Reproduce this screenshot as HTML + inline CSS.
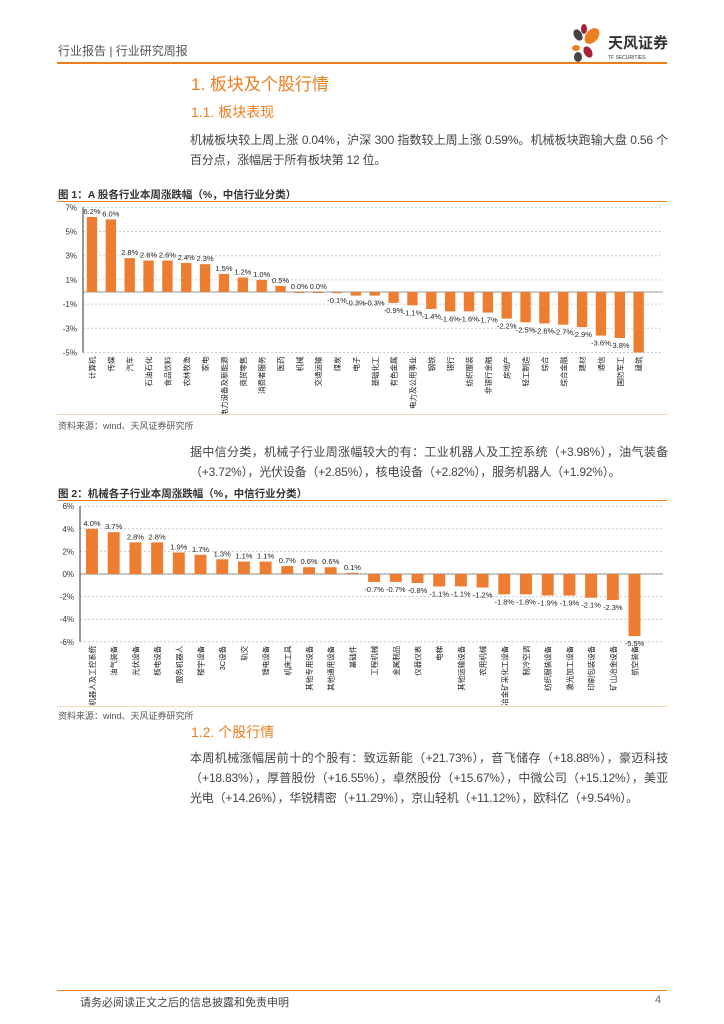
<!DOCTYPE html>
<html><head><meta charset="utf-8"><style>
body{margin:0;background:#fff;font-family:"Liberation Sans","Noto Sans CJK SC",sans-serif;color:#333}
#pg{position:relative;width:724px;height:1024px;overflow:hidden}
.a{position:absolute;white-space:nowrap}
.p{font-size:12px;color:#444;line-height:20px;left:190px;width:478px;white-space:normal;text-align:justify;letter-spacing:-0.2px}
.ft{font-size:10.5px;font-weight:bold;color:#333}
.src{font-size:9px;color:#555}
</style></head><body><div id="pg">
<div class="a" style="left:58px;top:42px;font-size:12px;color:#555">行业报告 | 行业研究周报</div>
<svg class="a" style="left:568px;top:24px" width="110" height="40">
<ellipse cx="10" cy="11" rx="4" ry="6" fill="#444" transform="rotate(-30 10 11)"/>
<ellipse cx="16" cy="5" rx="3" ry="5" fill="#a3213a"/>
<ellipse cx="24" cy="12" rx="6" ry="9" fill="#ee7d1e" transform="rotate(40 24 12)"/>
<ellipse cx="8" cy="24" rx="4" ry="3" fill="#ee7d1e"/>
<ellipse cx="20" cy="28" rx="4" ry="6" fill="#a3213a" transform="rotate(-30 20 28)"/>
<ellipse cx="10" cy="33" rx="4" ry="5" fill="#444"/>
<text x="40" y="24" font-size="15" font-weight="bold" fill="#333">天风证券</text>
<text x="40" y="35" font-size="5" fill="#333">TF SECURITIES</text></svg>
<div class="a" style="left:57px;top:62px;width:610px;height:2px;background:#ee7d1e"></div>
<div class="a" style="left:191px;top:70px;font-size:17px;color:#ee7d1e">1. 板块及个股行情</div>
<div class="a" style="left:191px;top:102px;font-size:14px;color:#ee7d1e">1.1. 板块表现</div>
<div class="a p" style="top:130px">机械板块较上周上涨 0.04%，沪深 300 指数较上周上涨 0.59%。机械板块跑输大盘 0.56 个百分点，涨幅居于所有板块第 12 位。</div>
<div class="a ft" style="left:58px;top:187px">图 1：A 股各行业本周涨跌幅（%，中信行业分类）</div>
<div class="a" style="left:57px;top:201px;width:610px;height:1px;background:#ee7d1e"></div>
<svg id="c1" class="a" style="left:55px;top:202px" width="612" height="212"></svg>
<div class="a" style="left:57px;top:414px;width:610px;height:1px;background:#f6d5b5"></div>
<div class="a src" style="left:58px;top:419px">资料来源：wind、天风证券研究所</div>
<div class="a p" style="top:442px">据中信分类，机械子行业周涨幅较大的有：工业机器人及工控系统（+3.98%），油气装备（+3.72%），光伏设备（+2.85%），核电设备（+2.82%），服务机器人（+1.92%）。</div>
<div class="a ft" style="left:58px;top:486px">图 2：机械各子行业本周涨跌幅（%，中信行业分类）</div>
<div class="a" style="left:57px;top:500px;width:610px;height:1px;background:#ee7d1e"></div>
<svg id="c2" class="a" style="left:55px;top:501px" width="612" height="205"></svg>
<div class="a" style="left:57px;top:706px;width:610px;height:1px;background:#f6d5b5"></div>
<div class="a src" style="left:58px;top:709px">资料来源：wind、天风证券研究所</div>
<div class="a" style="left:191px;top:722px;font-size:14px;color:#ee7d1e">1.2. 个股行情</div>
<div class="a p" style="top:748px">本周机械涨幅居前十的个股有：致远新能（+21.73%），音飞储存（+18.88%），豪迈科技（+18.83%），厚普股份（+16.55%），卓然股份（+15.67%），中微公司（+15.12%），美亚光电（+14.26%），华锐精密（+11.29%），京山轻机（+11.12%），欧科亿（+9.54%）。</div>
<div class="a" style="left:57px;top:990px;width:610px;height:1px;background:#ee7d1e"></div>
<div class="a" style="left:80px;top:994px;font-size:11px;color:#444">请务必阅读正文之后的信息披露和免责申明</div>
<div class="a" style="left:655px;top:994px;font-size:11px;color:#666">4</div>
</div>
<script>
const cats1=["计算机","传媒","汽车","石油石化","食品饮料","农林牧渔","家电","电力设备及新能源","商贸零售","消费者服务","医药","机械","交通运输","煤炭","电子","基础化工","有色金属","电力及公用事业","钢铁","银行","纺织服装","非银行金融","房地产","轻工制造","综合","综合金融","建材","通信","国防军工","建筑"];
const vals1=[6.2,6.0,2.8,2.6,2.6,2.4,2.3,1.5,1.2,1.0,0.5,0.0,0.0,-0.1,-0.3,-0.3,-0.9,-1.1,-1.4,-1.6,-1.6,-1.7,-2.2,-2.5,-2.6,-2.7,-2.9,-3.6,-3.8,-5.0];
const ticks1=[7,5,3,1,-1,-3,-5];
const cats2=["工业机器人及工控系统","油气装备","光伏设备","核电设备","服务机器人","楼宇设备","3C设备","轨交","锂电设备","机床工具","其他专用设备","其他通用设备","基础件","工程机械","金属制品","仪器仪表","电梯","其他运输设备","农用机械","冶金矿采化工设备","制冷空调","纺织服装设备","激光加工设备","印刷包装设备","矿山冶金设备","航空装备"];
const vals2=[4.0,3.7,2.8,2.8,1.9,1.7,1.3,1.1,1.1,0.7,0.6,0.6,0.1,-0.7,-0.7,-0.8,-1.1,-1.1,-1.2,-1.8,-1.8,-1.9,-1.9,-2.1,-2.3,-5.5];
const ticks2=[6,4,2,0,-2,-4,-6];
const NS="http://www.w3.org/2000/svg";
function mk(svg,t,a,txt){const e=document.createElementNS(NS,t);for(const k in a)e.setAttribute(k,a[k]);if(txt!==undefined)e.textContent=txt;svg.appendChild(e);return e;}
function draw(id,cats,vals,ticks,o){
 const s=document.getElementById(id);
 const y=v=>o.y0-v*o.k;
 const bw=o.step*0.55;
 ticks.forEach(t=>{
  const g=mk(s,'line',{x1:o.ax,x2:608,y1:y(t),y2:y(t),stroke:'#ccc','stroke-dasharray':'2,2'});
  
  const l=mk(s,'text',{x:o.ax-6,y:y(t)+3,'font-size':8,'text-anchor':'end',fill:'#333'},t+'%');
  
 });
 mk(s,'line',{x1:o.ax,x2:o.ax,y1:y(ticks[0]),y2:y(ticks[ticks.length-1]),stroke:'#333'});
 mk(s,'line',{x1:o.ax,x2:608,y1:y(0),y2:y(0),stroke:'#333','stroke-width':0.6});
 vals.forEach((v,i)=>{
  const cx=o.x0+i*o.step;
  const r=mk(s,'rect',{x:cx-bw/2,y:Math.min(y(v),y(0)),width:bw,height:Math.max(Math.abs(y(v)-y(0)),1),fill:'#ed7d31'});
  
  const ly=v>=0?y(v)-3:y(v)+10;
  if(!(o.hideLast&&i===vals.length-1)){
   const t=mk(s,'text',{x:cx,y:ly,'font-size':7.5,'text-anchor':'middle',fill:'#222'},v.toFixed(1)+'%');
   
  }
  const c=mk(s,'text',{x:cx+3,y:y(ticks[ticks.length-1])+4,'font-size':7.5,fill:'#222',transform:`rotate(-90 ${cx+3} ${y(ticks[ticks.length-1])+4})`,'text-anchor':'end'},cats[i]);
  
 });
}
draw('c1',cats1,vals1,ticks1,{y0:90,k:12.1,ax:28,x0:37,step:18.85,hideLast:true});
draw('c2',cats2,vals2,ticks2,{y0:73,k:11.3,ax:25,x0:37,step:21.7});
</script></body></html>
